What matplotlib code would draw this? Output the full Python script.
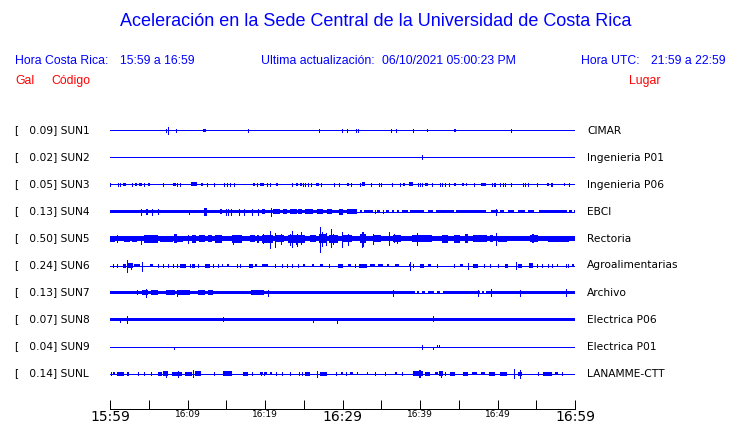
import matplotlib
matplotlib.use("Agg")
import matplotlib.pyplot as plt
import numpy as np

# ---------------- data ----------------
codes = ["SUN1", "SUN2", "SUN3", "SUN4", "SUN5", "SUN6", "SUN7", "SUN8", "SUN9", "SUNL"]
peaks_gal = [0.09, 0.02, 0.05, 0.13, 0.50, 0.24, 0.13, 0.07, 0.04, 0.14]
places = ["CIMAR", "Ingenieria P01", "Ingenieria P06", "EBCI", "Rectoria",
          "Agroalimentarias", "Archivo", "Electrica P06", "Electrica P01", "LANAMME-CTT"]
time_ticks = [0, 5, 10, 15, 20, 25, 30, 35, 40, 45, 50, 55, 60]   # minutes after 15:59
time_labels = ["15:59", "", "16:09", "", "16:19", "", "16:29", "", "16:39", "", "16:49", "", "16:59"]
big_labels = ["15:59", "16:29", "16:59"]

# trace envelopes: minutes, half amplitude (trace units)
# bands: (t_start, t_end, half)   spikes: (t, up, down)
sun1_bands = [(11.94, 12.35, 1.5), (44.39, 44.65, 1.5)]
sun1_spikes = [(7.19, 1.5, 1.5), (7.52, 3.5, 3.5), (8.58, 1.5, 1.5), (17.87, 1.5, 1.5),
               (26.98, 1.5, 1.5), (29.97, 1.5, 1.5), (30.62, 1.5, 1.5), (31.78, 1.5, 1.5),
               (32.03, 1.5, 1.5), (36.26, 1.5, 1.5), (36.94, 1.5, 1.5), (39.14, 1.5, 1.5),
               (40.94, 1, 1), (51.68, 1.5, 1.5)]

sun2_bands = []
sun2_spikes = [(40.30, 2, 2)]

sun3_bands = [(1.63, 2.02, 1.5), (3.27, 3.48, 1.5), (3.70, 4.09, 1.5), (4.90, 5.16, 1.5),
              (8.13, 8.48, 1.5), (10.41, 11.23, 2), (11.74, 12.04, 1.5), (18.45, 18.71, 1.5),
              (19.35, 19.91, 1.5), (21.42, 21.63, 1.5), (24.05, 24.30, 1.5), (24.52, 24.77, 1.5),
              (26.58, 26.93, 1.5), (30.62, 30.88, 1.5), (32.47, 32.86, 2), (37.85, 38.02, 1.5),
              (38.54, 39.14, 2), (40.65, 41.07, 1.5), (44.43, 44.69, 1.5), (45.42, 45.68, 1.5),
              (45.89, 46.10, 1.5), (47.91, 48.47, 1.5), (56.43, 56.68, 1.5), (58.54, 58.71, 1.5)]
sun3_spikes = [(t, 1.5, 1.5) for t in
               [0.0, 0.99, 1.25, 2.88, 4.34, 6.88, 8.69, 9.03, 12.56, 13.46, 14.71, 15.14, 15.53,
                16.0, 19.01, 20.30, 20.69, 23.53, 24.95, 25.16, 25.55, 25.94, 27.23, 28.90, 29.55,
                31.05, 32.21, 33.72, 34.67, 34.92, 36.43, 37.46, 39.79, 40.0, 40.22, 41.50, 42.58,
                42.88, 43.23, 43.74, 46.93, 49.25, 49.51, 49.72, 50.28, 50.75, 51.01, 51.70, 53.25,
                53.59, 53.94, 55.14, 56.86, 57.08, 59.23, 59.95]]

sun4_bands = [(0.0, 31.8, 1.6),
              (4.6, 4.94, 3), (12.09, 12.48, 4), (14.19, 14.41, 2.7), (19.57, 20.0, 2.5),
              (21.07, 21.94, 2.5), (22.37, 22.80, 2.5), (23.23, 24.09, 2.5), (24.30, 24.73, 2.5),
              (25.16, 26.23, 2.5), (26.67, 27.52, 2.5), (27.96, 28.60, 2.5), (29.59, 30.03, 3),
              (30.54, 31.83, 2.5),
              (32.26, 32.52, 1.6), (32.77, 33.98, 1.6), (34.49, 34.84, 1.6), (35.61, 35.96, 1.6),
              (36.34, 36.65, 1.6), (36.99, 37.25, 1.6), (37.64, 38.49, 1.6), (38.71, 40.56, 1.6),
              (40.99, 41.72, 1.6), (42.02, 44.43, 1.6), (44.69, 48.47, 1.6), (49.16, 50.02, 1.6),
              (50.32, 50.84, 1.6), (51.31, 52.17, 1.6), (52.69, 53.55, 1.6), (53.98, 54.75, 1.6),
              (55.35, 56.48, 1.6), (56.56, 58.97, 1.6), (59.23, 59.57, 1.6), (59.91, 60.0, 1.6)]
sun4_spikes = [(4.0, 3, 3), (5.42, 3, 3), (6.23, 2.7, 2.7), (10.19, 1.6, 2.7), (14.93, 3, 3),
               (15.27, 3, 3), (15.61, 3, 3), (16.65, 3, 3), (17.25, 3, 3), (18.28, 3, 3),
               (19.14, 3, 3), (20.74, 4, 4), (34.24, 1.6, 1.6), (35.27, 1.6, 1.6),
               (49.81, 3, 3), (59.95, 2, 2)]

sun5_bands = [(0.0, 60.0, 2.8),
              (0.0, 0.65, 3), (1.81, 2.58, 3), (2.80, 3.45, 3), (4.43, 6.23, 4), (6.45, 8.17, 3),
              (8.30, 8.61, 4.5), (8.61, 9.46, 3), (10.62, 11.06, 4), (11.48, 12.26, 3.5),
              (12.61, 13.12, 3.5), (13.55, 14.49, 4), (15.70, 16.99, 4), (18.10, 18.71, 3.5),
              (18.93, 19.23, 4), (19.57, 20.0, 4), (20.0, 21.0, 4), (21.3, 22.5, 3.5),
              (23.0, 25.2, 4), (25.8, 26.6, 3.5), (27.0, 28.0, 4.5), (28.3, 29.4, 4),
              (30.0, 31.2, 3.5), (32.2, 33.0, 4.5), (34.0, 35.0, 3.5), (36.5, 37.6, 3.5),
              (39.0, 41.51, 3.5), (42.80, 43.65, 4), (44.43, 45.16, 4), (45.81, 46.23, 4.5),
              (46.88, 48.61, 3.5), (49.03, 49.38, 3.5), (50.10, 51.19, 3), (54.19, 55.26, 3.5),
              (54.41, 54.67, 4.5), (56.5, 59.2, 3)]
sun5_spikes = [(0.86, 3.5, 3.5), (4.0, 2.7, 5), (10.03, 4, 4), (15.91, 3, 5), (19.70, 4.7, 4.7),
               (20.65, 8, 9.7), (21.29, 6, 8), (22.0, 5, 5), (23.23, 5, 6.5), (23.42, 8, 8),
               (23.94, 4, 5.5), (24.09, 4.5, 7), (24.65, 6.3, 5.3), (27.10, 12, 13),
               (27.31, 6.3, 7), (27.81, 6, 6), (28.58, 9.3, 8.7), (28.81, 5, 5.3),
               (29.90, 6.3, 8), (30.75, 4.7, 6), (32.48, 7, 8.7), (32.68, 6.3, 7.7),
               (33.97, 4.7, 5.3), (36.04, 6.3, 6.3), (36.68, 4.7, 3.7), (36.99, 4, 4.7),
               (39.57, 6, 6), (49.81, 6, 6)]

sun6_bands = [(1.72, 2.02, 2), (2.36, 3.01, 2.5), (3.14, 3.87, 1.5), (5.16, 5.51, 1.5),
              (9.03, 9.77, 2), (10.62, 10.97, 2), (12.26, 12.90, 2), (14.41, 14.61, 1.5),
              (15.06, 15.35, 1.5), (17.94, 18.49, 2), (18.71, 18.93, 1.5), (19.57, 20.43, 1.5),
              (24.86, 25.16, 1.5), (26.02, 26.36, 1.5), (27.10, 27.44, 1.5), (29.38, 30.10, 2),
              (30.75, 31.06, 1.5), (32.17, 33.12, 2), (33.55, 34.19, 1.5), (34.62, 35.26, 1.5),
              (35.70, 36.04, 1.5), (36.77, 37.33, 1.5), (38.58, 38.80, 1.5), (40.0, 40.56, 2),
              (41.07, 41.38, 1.5), (45.16, 45.51, 1.5), (46.88, 47.52, 2), (50.97, 51.39, 2),
              (52.69, 53.12, 2), (54.10, 54.62, 2.5), (57.64, 57.77, 1.5), (59.65, 59.91, 1.5)]
sun6_spikes = [(0.43, 1.5, 1.5), (0.86, 1.5, 1.5), (2.23, 6, 6.7), (2.71, 3, 3), (4.17, 4, 5),
               (6.23, 1.5, 1.5), (6.88, 1.5, 1.5), (7.45, 1.5, 1.5), (8.09, 1.5, 1.5),
               (8.61, 1.5, 1.5), (10.32, 1.5, 1.5), (11.39, 1.5, 1.5), (13.33, 1.5, 1.5),
               (13.90, 1.5, 1.5), (16.43, 1.5, 1.5), (16.77, 1.5, 1.5), (21.29, 1.5, 1.5),
               (22.15, 1.5, 1.5), (22.80, 1.5, 1.5), (23.53, 1.5, 1.5), (24.22, 1.5, 1.5),
               (28.30, 1.5, 1.5), (31.61, 1.5, 1.5), (38.67, 3.3, 4), (39.14, 1.5, 1.5),
               (42.15, 1.5, 1.5), (44.43, 1.5, 1.5), (46.15, 3, 3), (48.26, 1.5, 1.5),
               (49.03, 1.5, 1.5), (50.10, 1.5, 1.5), (52.39, 3.5, 3.5), (55.06, 1.5, 1.5),
               (55.78, 1.5, 1.5), (56.56, 1.5, 1.5), (57.08, 1.5, 1.5), (58.80, 1.5, 1.5),
               (59.14, 1.5, 1.5)]

sun7_bands = [(0.0, 39.4, 1.6), (43.4, 47.8, 1.6), (48.5, 60.0, 1.6),
              (39.6, 39.9, 1.6), (40.3, 40.6, 1.6), (41.0, 41.8, 1.6), (42.2, 42.6, 1.6),
              (43.0, 43.3, 1.6), (48.0, 48.3, 1.6),
              (4.09, 4.94, 2.5), (5.3, 6.2, 2.2), (7.2, 8.4, 2.2), (8.8, 10.3, 2.2),
              (11.3, 12.2, 2.2), (12.68, 13.33, 2.4), (18.2, 19.9, 2.2)]
sun7_spikes = [(3.52, 2.7, 1.6), (4.60, 4, 4), (8.61, 3, 3), (20.45, 3, 3), (36.53, 3, 3),
               (47.52, 3, 3), (49.16, 3.5, 3.5), (52.9, 3, 3), (58.8, 3.5, 3.5)]

sun8_bands = [(0.0, 60.0, 1.6)]
sun8_spikes = [(1.33, 1.6, 2.8), (2.23, 3.3, 3.3), (14.61, 3, 1.6), (26.23, 1.6, 2.4),
               (29.33, 1.6, 3.2), (41.72, 3.2, 1.6)]

sun9_bands = []
sun9_spikes = [(8.30, 0, 2), (40.30, 2, 2), (41.72, 0, 2), (42.15, 1.5, 0), (42.45, 1.5, 0)]

sunl_bands = [(0.43, 0.65, 1.5), (0.86, 1.85, 2), (6.23, 6.67, 2), (6.88, 7.52, 2.5),
              (7.96, 9.25, 2), (9.68, 10.54, 2), (10.97, 11.74, 2.5), (14.61, 15.78, 2.5),
              (17.20, 17.85, 2), (19.35, 19.70, 1.5), (20.0, 20.22, 1.5), (20.65, 20.86, 1.5),
              (25.16, 25.81, 2), (27.10, 27.96, 2), (29.77, 30.10, 1.5), (30.97, 31.32, 1.5),
              (31.83, 32.04, 1.5), (33.12, 33.33, 1.5), (36.77, 37.07, 1.5), (39.14, 40.43, 2.5),
              (40.65, 41.29, 2), (41.94, 42.28, 1.5), (42.45, 43.01, 2.5), (43.87, 44.52, 2),
              (45.59, 46.23, 2), (46.75, 47.31, 1.5), (47.87, 48.39, 1.5), (48.90, 49.68, 2),
              (50.32, 51.19, 2), (52.69, 53.12, 2), (55.91, 56.99, 2), (57.42, 57.85, 1.5)]
sunl_spikes = [(0.13, 1.5, 1.5), (2.15, 1.5, 1.5), (2.36, 1.5, 1.5), (3.65, 1.5, 1.5),
               (4.43, 1.5, 1.5), (5.29, 1.5, 1.5), (7.23, 3, 3), (8.81, 3, 3), (10.67, 3.5, 3.5),
               (13.46, 1.5, 1.5), (18.37, 1.5, 1.5), (19.48, 1.5, 1.5), (19.91, 1.5, 1.5),
               (21.42, 1.5, 1.5), (22.15, 1.5, 1.5), (23.23, 1.5, 1.5), (24.43, 1.5, 1.5),
               (24.73, 1.5, 1.5), (26.7, 3, 3.3), (29.16, 1.5, 1.5), (30.45, 1.5, 1.5),
               (34.19, 1.5, 1.5), (35.48, 1.5, 1.5), (37.64, 1.5, 1.5), (39.91, 3.5, 3.5),
               (40.0, 3.5, 3.5), (42.71, 3, 3), (43.23, 1.5, 1.5), (52.17, 4.7, 4.3),
               (52.94, 4, 4), (55.26, 1.5, 1.5), (58.28, 1.5, 1.5)]

all_bands = [sun1_bands, sun2_bands, sun3_bands, sun4_bands, sun5_bands,
             sun6_bands, sun7_bands, sun8_bands, sun9_bands, sunl_bands]
all_spikes = [sun1_spikes, sun2_spikes, sun3_spikes, sun4_spikes, sun5_spikes,
              sun6_spikes, sun7_spikes, sun8_spikes, sun9_spikes, sunl_spikes]

# ---------------- layout ----------------
W, H, DPI = 740, 423, 100
BLUE = "#0000ff"
RED = "#ff0000"
ROW0, ROWGAP = 130.5, 27        # trace baseline rows (pixel-like units)
AX_L, AX_R, AX_T, AX_B = 110, 575, 115, 409
MINW = 60 / (AX_R - AX_L)       # one pixel in minutes
LW = 0.7


def fx(x):
    return x / W


def fy(y):
    return 1 - y / H


fig = plt.figure(figsize=(W / DPI, H / DPI), dpi=DPI)
fig.patch.set_facecolor("white")

ax = fig.add_axes([fx(AX_L), fy(AX_B), (AX_R - AX_L) / W, (AX_B - AX_T) / H])
ax.set_xlim(0, 60)
ax.set_ylim(AX_B, AX_T)
ax.set_facecolor("white")

for i in range(len(codes)):
    yc = ROW0 + i * ROWGAP
    ax.hlines(yc, 0, 60, color=BLUE, lw=LW, antialiased=False)
    b = all_bands[i]
    if b:
        t0 = np.array([r[0] for r in b])
        t1 = np.array([r[1] for r in b])
        hh = np.array([r[2] for r in b])
        ax.bar(t0, 2 * hh, width=np.maximum(t1 - t0, MINW), bottom=yc - hh, align="edge",
               color=BLUE, linewidth=0, antialiased=False)
    s = all_spikes[i]
    if s:
        ts = np.array([r[0] for r in s])
        up = np.array([r[1] for r in s])
        dn = np.array([r[2] for r in s])
        ax.vlines(ts, yc - up, yc + dn, color=BLUE, lw=LW, antialiased=False)

    fig.text(fx(15), fy(yc), f"[   {peaks_gal[i]:.2f}] {codes[i]}", fontsize=7.7,
             family="DejaVu Sans", va="center", ha="left", color="black")
    fig.text(fx(587), fy(yc), places[i], fontsize=7.7, family="DejaVu Sans",
             va="center", ha="left", color="black")

for sp in ["left", "right", "top"]:
    ax.spines[sp].set_visible(False)
ax.spines["bottom"].set_linewidth(0.72)
ax.set_yticks([])
ax.set_xticks(time_ticks)
ax.set_xticklabels(time_labels)
ax.tick_params(axis="x", direction="in", length=6.5, width=0.72, pad=1, colors="black")
for lab in ax.get_xticklabels():
    lab.set_family("DejaVu Sans")
    if lab.get_text() in big_labels:
        lab.set_fontsize(10)
    else:
        lab.set_fontsize(6.5)

# ---------------- header text ----------------
hdr = dict(family="Liberation Sans", fontsize=8.8, color=BLUE, va="center", ha="left")
fig.text(fx(376), fy(22), "Aceleración en la Sede Central de la Universidad de Costa Rica",
         family="Liberation Sans", fontsize=13, color=BLUE, ha="center", va="center")
fig.text(fx(15), fy(61), "Hora Costa Rica:", **hdr)
fig.text(fx(120), fy(61), "15:59 a 16:59", **hdr)
fig.text(fx(261), fy(61), "Ultima actualización:", **hdr)
fig.text(fx(382), fy(61), "06/10/2021 05:00:23 PM", **hdr)
fig.text(fx(581), fy(61), "Hora UTC:", **hdr)
fig.text(fx(651), fy(61), "21:59 a 22:59", **hdr)
red = dict(family="Liberation Sans", fontsize=8.8, color=RED, va="center", ha="left")
fig.text(fx(15), fy(81), "Gal", **red)
fig.text(fx(51), fy(81), "Código", **red)
fig.text(fx(629), fy(81), "Lugar", **red)

fig.savefig("out.png", dpi=DPI, facecolor="white")
